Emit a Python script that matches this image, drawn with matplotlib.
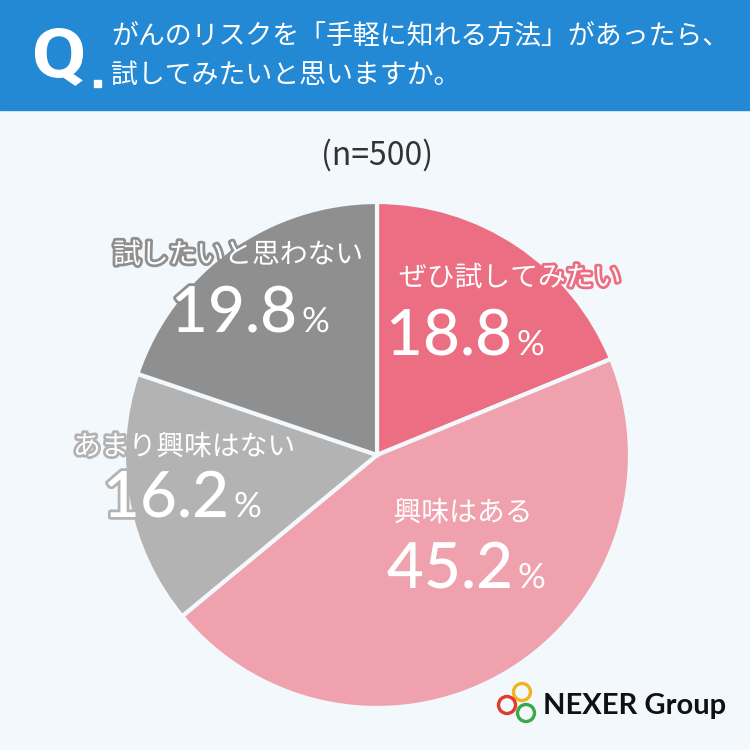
import matplotlib
matplotlib.use("Agg")
import matplotlib.pyplot as plt
from matplotlib.patches import Rectangle, Circle, PathPatch
from matplotlib.textpath import TextPath
from matplotlib.font_manager import FontProperties
from matplotlib.transforms import Affine2D
import matplotlib.patheffects as pe

plt.rcParams['font.family'] = ['Noto Sans CJK JP', 'DejaVu Sans']

# ---- data ----
categories = ["ぜひ試してみたい", "興味はある", "あまり興味はない", "試したいと思わない"]
values = [18.8, 45.2, 16.2, 19.8]
colors = ["#EC6E82", "#EFA2AD", "#B3B3B3", "#8F8F8F"]
title_lines = ["がんのリスクを「手軽に知れる方法」があったら、", "試してみたいと思いますか。"]
sample_note = "(n=500)"
brand = "NEXER Group"

BG = "#F3F8FD"
W = H = 750
fig = plt.figure(figsize=(7.5, 7.5), dpi=100, facecolor=BG)
ax = fig.add_axes([0, 0, 1, 1])
ax.set_xlim(0, W)
ax.set_ylim(0, H)
ax.set_aspect('equal')
ax.axis('off')

def Y(py):
    return H - py

# header
ax.add_patch(Rectangle((0, Y(110)), W, 110, color="#2389D5", zorder=1))
qp = TextPath((0, 0), "Q", size=80, prop=FontProperties(family='Roboto', weight='bold'))
bb = qp.get_extents()
tr = Affine2D().translate(-bb.x0, -bb.y0).scale(48 / bb.width, 58 / bb.height).translate(35, Y(86))
ax.add_patch(PathPatch(tr.transform_path(qp), color='white', lw=0, zorder=2))
ax.add_patch(Rectangle((94, Y(87)), 6.5, 7.5, color='white', zorder=2))
ax.text(111, Y(36), title_lines[0], color='white', fontsize=19.4, va='center', ha='left', zorder=3)
ax.text(111, Y(75), title_lines[1], color='white', fontsize=19.4, va='center', ha='left', zorder=3)

# sample note
ax.text(377, Y(155), sample_note, color="#333333", fontsize=23, ha='center', va='center')

# pie
cx, cy, R = 377, Y(455), 253
ax.pie(values, colors=colors, startangle=90, counterclock=False, center=(cx, cy), radius=R,
       wedgeprops=dict(edgecolor=BG, linewidth=3), frame=True)
ax.set_xlim(0, W)
ax.set_ylim(0, H)
ax.axis('off')

# labels: (label center x, label center y, split x for number/%, number baseline y)
label_pos = [
    (510, 278, 512, 355),
    (463, 513, 513, 588),
    (184, 447, 229, 517),
    (238, 255, 297, 332),
]
for cat, val, col, (lx, ly, sx, by) in zip(categories, values, colors, label_pos):
    eff = [pe.withStroke(linewidth=4, foreground=col)]
    ax.text(lx, Y(ly), cat, color='white', fontsize=20, ha='center', va='center',
            path_effects=eff, zorder=5)
    ax.text(sx, Y(by), f"{val:.1f}", color='white', fontsize=46, ha='right', va='baseline',
            family=['Lato', 'DejaVu Sans'], fontweight='medium', path_effects=eff, zorder=5)
    ax.text(sx + 5, Y(by), "%", color='white', fontsize=25, ha='left', va='baseline',
            family=['Lato', 'DejaVu Sans'], path_effects=eff, zorder=5)

# logo
for (px, py, c) in [(522, 692, "#F2B322"), (507, 705, "#E23B2E"), (526, 713, "#3BA84A")]:
    ax.add_patch(Circle((px, Y(py)), 8.5, fill=False, edgecolor=c, linewidth=2.4, zorder=6))
ax.text(543, Y(706), brand, color="#111111", fontsize=21, fontweight='bold', ha='left', va='center',
        family=['Lato', 'DejaVu Sans'], zorder=6)

fig.savefig("out.png", dpi=100, facecolor=BG)
